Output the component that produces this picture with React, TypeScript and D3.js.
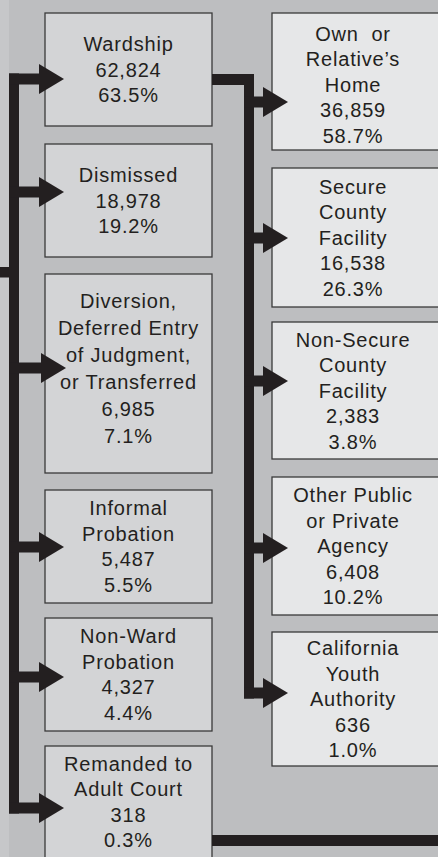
import React from "react";
import * as d3 from "d3";

// ---- data ----
const leftLabels: string[][] = [
  ["Wardship"],
  ["Dismissed"],
  ["Diversion,", "Deferred Entry", "of Judgment,", "or Transferred"],
  ["Informal", "Probation"],
  ["Non-Ward", "Probation"],
  ["Remanded to", "Adult Court"],
];
const leftCounts: number[] = [62824, 18978, 6985, 5487, 4327, 318];
const leftPcts: number[] = [63.5, 19.2, 7.1, 5.5, 4.4, 0.3];

const rightLabels: string[][] = [
  ["Own  or", "Relative\u2019s", "Home"],
  ["Secure", "County", "Facility"],
  ["Non-Secure", "County", "Facility"],
  ["Other Public", "or Private", "Agency"],
  ["California", "Youth", "Authority"],
];
const rightCounts: number[] = [36859, 16538, 2383, 6408, 636];
const rightPcts: number[] = [58.7, 26.3, 3.8, 10.2, 1.0];

// ---- layout ----
const W = 438;
const H = 857;
const leftTops = [13, 144, 274, 490, 618, 746];
const leftHeights = [113, 113, 199, 113, 113, 120];
const leftArrowY = [79, 192, 368, 547, 677, 808];
const leftTextDy = [0, 0, -5, 0, 0, -4];
const leftLineH = [25.5, 25.5, 27, 25.5, 25.5, 25.5];
const rightTops = [13, 168, 322, 477, 632];
const rightHeights = [137, 139, 137, 138, 134];
const rightArrowY = [102, 238, 381, 548, 693];
const rightTextDy = [3, 0, 0, 0, 0];

const BG = "#bdbec0";
const STRIP = "#c6c7c9";
const LEFT_FILL = "#d3d4d6";
const RIGHT_FILL = "#e6e7e8";
const INK = "#231f20";
const BORDER = "#3a3a3a";
const FONT = "'Liberation Sans', Arial, Helvetica, sans-serif";

const fmt = d3.format(",");
const fmtPct = (v: number) => d3.format(".1f")(v) + "%";

const lineGen = d3.line<[number, number]>();

function Arrow({ x0, tip, y }: { x0: number; tip: number; y: number }) {
  const headLen = 25;
  const headHalf = 15;
  const shaft = 11;
  const base = tip - headLen;
  return (
    <g fill={INK}>
      <rect x={x0} y={y - shaft / 2} width={base - x0 + 1} height={shaft} />
      <path
        d={lineGen([
          [base, y - headHalf],
          [tip, y],
          [base, y + headHalf],
        ])! + "Z"}
      />
    </g>
  );
}

function Box({
  x, y, w, h, fill, lines, dy = 0, lh = 25.5, cx,
}: {
  x: number; y: number; w: number; h: number; fill: string; lines: string[];
  dy?: number; lh?: number; cx: number;
}) {
  const cy = y + h / 2 + dy;
  const n = lines.length;
  const firstBaseline = cy - ((n - 1) * lh) / 2 + 7;
  return (
    <g>
      <rect x={x} y={y} width={w} height={h} fill={fill} stroke={BORDER} strokeWidth={1.3} />
      <text
        fill={INK}
        fontFamily={FONT}
        fontSize={20}
        letterSpacing={0.8}
        textAnchor="middle"
        style={{ whiteSpace: "pre" }}
      >
        {lines.map((l, i) => (
          <tspan key={i} x={cx} y={firstBaseline + i * lh}>
            {l}
          </tspan>
        ))}
      </text>
    </g>
  );
}

export default function App() {
  const lx = 45, lw = 167;
  const rx = 272, rw = 172;
  const rightCx = 353;
  return (
    <svg
      width={W}
      height={H}
      viewBox={`0 0 ${W} ${H}`}
      style={{ position: "fixed", left: 0, top: 0, display: "block" }}
    >
      <rect x={0} y={0} width={W} height={H} fill={BG} />
      <rect x={0} y={0} width={9} height={H} fill={STRIP} />

      {/* left boxes */}
      {leftLabels.map((lab, i) => (
        <Box
          key={"l" + i}
          x={lx}
          y={leftTops[i]}
          w={lw}
          h={leftHeights[i]}
          cx={lx + lw / 2}
          fill={LEFT_FILL}
          lines={[...lab, fmt(leftCounts[i]), fmtPct(leftPcts[i])]}
          dy={leftTextDy[i]}
          lh={leftLineH[i]}
        />
      ))}

      {/* right boxes */}
      {rightLabels.map((lab, i) => (
        <Box
          key={"r" + i}
          x={rx}
          y={rightTops[i]}
          w={rw}
          h={rightHeights[i]}
          cx={rightCx}
          fill={RIGHT_FILL}
          lines={[...lab, fmt(rightCounts[i]), fmtPct(rightPcts[i])]}
          dy={rightTextDy[i]}
        />
      ))}

      {/* feeder from the left */}
      <rect x={0} y={267} width={14} height={10.5} fill={INK} />
      {/* left trunk */}
      <rect x={9} y={leftArrowY[0] - 5.5} width={10} height={leftArrowY[5] - leftArrowY[0] + 11} fill={INK} />
      {leftArrowY.map((y, i) => (
        <Arrow key={"la" + i} x0={9} tip={i === 2 ? 66 : 64} y={y} />
      ))}

      {/* connector from Wardship to right trunk */}
      <rect x={lx + lw} y={74} width={254 - (lx + lw)} height={11} fill={INK} />
      <rect x={244} y={74} width={10} height={rightArrowY[4] + 5.5 - 74} fill={INK} />
      {rightArrowY.map((y, i) => (
        <Arrow key={"ra" + i} x0={244} tip={288} y={y} />
      ))}

      {/* outgoing line at bottom */}
      <rect x={lx + lw} y={835} width={W - (lx + lw)} height={11} fill={INK} />
    </svg>
  );
}
